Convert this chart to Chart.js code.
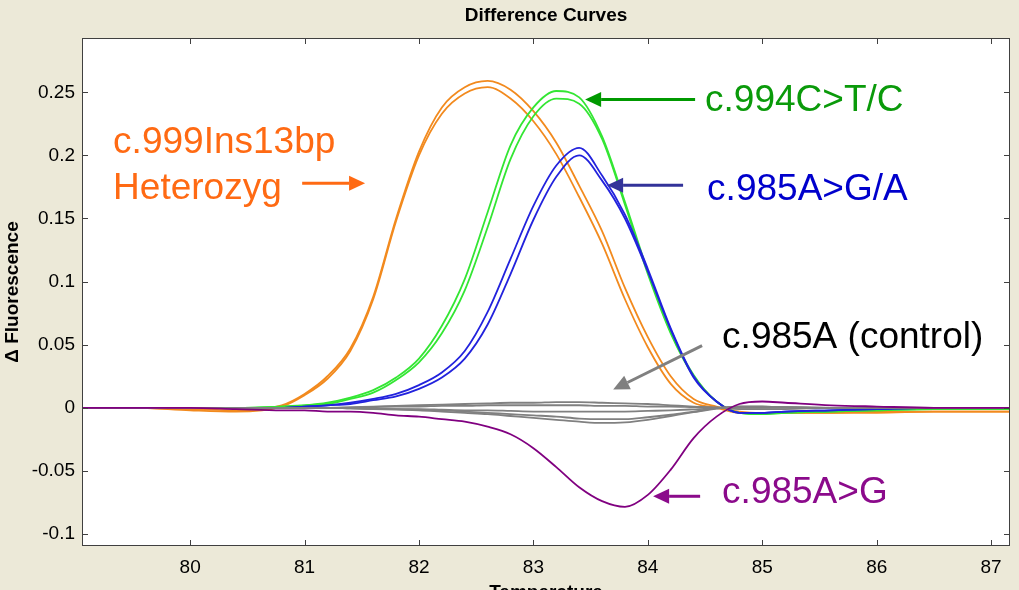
<!DOCTYPE html>
<html>
<head>
<meta charset="utf-8">
<title>Difference Curves</title>
<script src="https://cdn.jsdelivr.net/npm/chart.js@4.4.0/dist/chart.umd.min.js"></script>
<style>
    html, body { margin: 0; padding: 0; background: #ece9d8; overflow: hidden; }
    #wrap { width: 1019px; height: 610px; }
</style>
</head>
<body>
<div id="wrap"><canvas id="diffChart" width="1019" height="610"></canvas></div>
<script>
// Temperature grid (deg C) shared by every curve
const temps = [79.05, 79.5, 80, 80.4, 80.8, 81.0, 81.2, 81.4, 81.6, 81.8, 82.0, 82.2, 82.4, 82.6, 82.8,
    83.0, 83.2, 83.4, 83.6, 83.8, 84.0, 84.2, 84.4, 84.6, 84.8, 85.0, 85.2, 85.6, 86.0, 86.5, 87.0, 87.17];

// c.999Ins13bp heterozygous (orange, two replicates)
const orangeA = [0, 0, -0.001, -0.002, 0.002, 0.011, 0.025, 0.047, 0.088, 0.150, 0.203, 0.238, 0.254, 0.259, 0.252,
    0.235, 0.210, 0.176, 0.140, 0.095, 0.056, 0.025, 0.007, 0.001, -0.003, -0.004, -0.004, -0.004, -0.003, -0.003, -0.003, -0.003];
const orangeB = [0, 0, -0.002, -0.003, 0.001, 0.010, 0.023, 0.045, 0.086, 0.148, 0.200, 0.233, 0.249, 0.254, 0.245,
    0.227, 0.201, 0.167, 0.130, 0.086, 0.048, 0.019, 0.004, 0.000, -0.004, -0.004, -0.004, -0.004, -0.004, -0.003, -0.003, -0.003];

// c.994C>T/C (green)
const greenA = [0, 0, 0, 0, 0.001, 0.002, 0.004, 0.008, 0.014, 0.024, 0.039, 0.065, 0.102, 0.155, 0.208,
    0.238, 0.251, 0.246, 0.215, 0.163, 0.108, 0.060, 0.026, 0.005, -0.004, -0.005, -0.004, -0.003, -0.002, -0.001, -0.001, -0.001];
const greenB = [0, 0, 0, 0, 0.001, 0.002, 0.003, 0.007, 0.012, 0.022, 0.036, 0.059, 0.093, 0.143, 0.197,
    0.231, 0.245, 0.241, 0.213, 0.161, 0.106, 0.059, 0.025, 0.005, -0.004, -0.005, -0.004, -0.003, -0.002, -0.001, -0.001, -0.001];

// c.985A>G/A (blue)
const blueA = [0, 0, 0, 0, 0, 0.001, 0.002, 0.004, 0.007, 0.011, 0.018, 0.028, 0.045, 0.076, 0.118,
    0.160, 0.192, 0.206, 0.184, 0.153, 0.110, 0.063, 0.025, 0.005, -0.004, -0.004, -0.003, -0.002, -0.001, 0, 0, 0];
const blueB = [0, 0, 0, 0, 0, 0.001, 0.002, 0.003, 0.006, 0.009, 0.015, 0.024, 0.039, 0.066, 0.106,
    0.149, 0.183, 0.200, 0.180, 0.150, 0.108, 0.062, 0.024, 0.005, -0.004, -0.004, -0.003, -0.002, -0.001, 0, 0, 0];

// c.985A control (grey, several runs)
const gray1 = [0, 0, 0, 0, 0, 0, 0, 0.0005, 0.001, 0.0015, 0.002, 0.0025, 0.003, 0.0035, 0.004,
    0.004, 0.0045, 0.0045, 0.004, 0.0035, 0.003, 0.002, 0.001, 0.0003, -0.001, -0.001, -0.001, 0, 0, 0, 0, 0];
const gray2 = [0, 0, 0, 0, 0, 0, 0, 0, 0.0005, 0.001, 0.001, 0.0015, 0.0015, 0.002, 0.002,
    0.002, 0.002, 0.002, 0.0015, 0.0015, 0.001, 0.001, 0.0005, 0.0002, 0, 0, 0, 0, 0, 0, 0, 0];
const gray3 = [0, 0, 0, 0, 0, 0, 0, 0, -0.0005, -0.001, -0.001, -0.0015, -0.002, -0.002, -0.0025,
    -0.003, -0.003, -0.003, -0.003, -0.003, -0.0025, -0.002, -0.0012, -0.0003, 0.001, 0.001, 0.0005, 0, 0, 0, 0, 0];
const gray4 = [0, 0, 0, 0, 0, 0, 0, -0.0005, -0.001, -0.001, -0.0015, -0.002, -0.003, -0.004, -0.005,
    -0.006, -0.007, -0.0085, -0.009, -0.009, -0.0075, -0.0055, -0.003, -0.0005, 0.001, 0.001, 0.0005, 0, 0, 0, 0, 0];
const gray5 = [0, 0, 0, 0, 0, 0, 0, -0.0005, -0.001, -0.0015, -0.002, -0.003, -0.004, -0.005, -0.0065,
    -0.008, -0.0095, -0.011, -0.012, -0.0115, -0.0095, -0.0065, -0.0035, -0.0006, 0.001, 0.001, 0.0005, 0, 0, 0, 0, 0];

// c.985A>G (purple)
const purple = [0, 0, 0, -0.001, -0.002, -0.002, -0.003, -0.003, -0.004, -0.006, -0.007, -0.009, -0.011, -0.015, -0.021,
    -0.032, -0.047, -0.063, -0.074, -0.0785, -0.069, -0.049, -0.024, -0.007, 0.003, 0.005, 0.004, 0.002, 0.001, 0, 0, 0];

// Axes
const xTickValues = [80, 81, 82, 83, 84, 85, 86, 87];
const xTickLabels = ['80', '81', '82', '83', '84', '85', '86', '87'];
const yTickValues = [-0.1, -0.05, 0, 0.05, 0.1, 0.15, 0.2, 0.25];
const yTickLabels = ['-0.1', '-0.05', '0', '0.05', '0.1', '0.15', '0.2', '0.25'];
const xRange = [79.055, 87.165];
const yRange = [-0.1095, 0.293];

// Text labels and arrows, placed in data units
const notes = [
    { text: 'c.999Ins13bp', at: [79.327, 0.2015], color: '#ff6a13' },
    { text: 'Heterozyg', at: [79.327, 0.1655], color: '#ff6a13' },
    { text: 'c.994C>T/C', at: [84.50, 0.2349], color: '#0a9a0a' },
    { text: 'c.985A>G/A', at: [84.518, 0.1646], color: '#0000cc' },
    { text: 'c.985A (control)', at: [84.649, 0.0476], color: '#000000' },
    { text: 'c.985A>G', at: [84.649, -0.0751], color: '#8b0a8b' }
];
const arrows = [
    { from: [80.979, 0.178], to: [81.529, 0.178], color: '#ff6a13' },
    { from: [84.413, 0.2443], to: [83.452, 0.2443], color: '#009900' },
    { from: [84.308, 0.1764], to: [83.644, 0.1764], color: '#333399' },
    { from: [84.474, 0.0492], to: [83.697, 0.01446], color: '#808080' },
    { from: [84.457, -0.0701], to: [84.046, -0.0701], color: '#8b0a8b' }
];

const FONT = "'Liberation Sans', Arial, sans-serif";

function toPoints(values) {
    return temps.map((t, i) => ({ x: t, y: values[i] }));
}

function curve(values, color) {
    return {
        data: toPoints(values),
        borderColor: color,
        borderWidth: 1.8,
        pointRadius: 0,
        fill: false,
        cubicInterpolationMode: 'monotone'
    };
}

// white plot area over the beige window background
const plotBackground = {
    id: 'plotBackground',
    beforeDraw(chart) {
        const { ctx, chartArea: a } = chart;
        ctx.save();
        ctx.fillStyle = '#ffffff';
        ctx.fillRect(a.left, a.top, a.right - a.left, a.bottom - a.top);
        ctx.restore();
    }
};

// box, inward ticks on all four sides, title
const matlabFrame = {
    id: 'matlabFrame',
    afterDraw(chart) {
        const { ctx, chartArea: a, scales: { x, y } } = chart;
        const tick = 6;
        ctx.save();
        ctx.strokeStyle = '#404040';
        ctx.lineWidth = 1;
        ctx.strokeRect(a.left + 0.5, a.top + 0.5, a.right - a.left - 1, a.bottom - a.top - 1);
        ctx.beginPath();
        x.ticks.forEach(t => {
            const px = Math.round(x.getPixelForValue(t.value)) + 0.5;
            ctx.moveTo(px, a.bottom); ctx.lineTo(px, a.bottom - tick);
            ctx.moveTo(px, a.top); ctx.lineTo(px, a.top + tick);
        });
        y.ticks.forEach(t => {
            const py = Math.round(y.getPixelForValue(t.value)) + 0.5;
            ctx.moveTo(a.left, py); ctx.lineTo(a.left + tick, py);
            ctx.moveTo(a.right, py); ctx.lineTo(a.right - tick, py);
        });
        ctx.stroke();

        ctx.fillStyle = '#000';
        ctx.font = 'bold 19px ' + FONT;
        ctx.textAlign = 'center';
        ctx.textBaseline = 'middle';
        ctx.fillText('Difference Curves', (a.left + a.right) / 2, 16);
        ctx.restore();
    }
};

const annotations = {
    id: 'annotations',
    afterDraw(chart) {
        const { ctx, scales: { x, y } } = chart;
        ctx.save();
        ctx.font = '37px ' + FONT;
        ctx.textAlign = 'left';
        ctx.textBaseline = 'alphabetic';
        notes.forEach(n => {
            ctx.fillStyle = n.color;
            ctx.fillText(n.text, x.getPixelForValue(n.at[0]), y.getPixelForValue(n.at[1]));
        });

        arrows.forEach(ar => {
            const x0 = x.getPixelForValue(ar.from[0]), y0 = y.getPixelForValue(ar.from[1]);
            const x1 = x.getPixelForValue(ar.to[0]), y1 = y.getPixelForValue(ar.to[1]);
            const ang = Math.atan2(y1 - y0, x1 - x0);
            const headLen = 16, headHalf = 7.5;
            const bx = x1 - headLen * Math.cos(ang), by = y1 - headLen * Math.sin(ang);
            ctx.strokeStyle = ar.color;
            ctx.fillStyle = ar.color;
            ctx.lineWidth = 3;
            ctx.beginPath();
            ctx.moveTo(x0, y0);
            ctx.lineTo(bx, by);
            ctx.stroke();
            ctx.beginPath();
            ctx.moveTo(x1, y1);
            ctx.lineTo(bx + headHalf * Math.sin(ang), by - headHalf * Math.cos(ang));
            ctx.lineTo(bx - headHalf * Math.sin(ang), by + headHalf * Math.cos(ang));
            ctx.closePath();
            ctx.fill();
        });
        ctx.restore();
    }
};

new Chart(document.getElementById('diffChart'), {
    type: 'line',
    data: {
        datasets: [
            curve(purple, '#800080'),
            curve(gray1, '#808080'),
            curve(gray2, '#808080'),
            curve(gray3, '#808080'),
            curve(gray4, '#808080'),
            curve(gray5, '#808080'),
            curve(blueA, '#2222dd'),
            curve(blueB, '#2222dd'),
            curve(greenA, '#33e633'),
            curve(greenB, '#33e633'),
            curve(orangeA, '#f28a1e'),
            curve(orangeB, '#f28a1e')
        ]
    },
    options: {
        responsive: false,
        animation: false,
        layout: { padding: { top: 38, right: 9, left: 0, bottom: 0 } },
        plugins: {
            legend: { display: false },
            tooltip: { enabled: false },
            title: { display: false }
        },
        scales: {
            x: {
                type: 'linear',
                min: xRange[0],
                max: xRange[1],
                grid: { display: false, drawTicks: false },
                border: { display: false },
                afterBuildTicks: (scale) => { scale.ticks = xTickValues.map(v => ({ value: v })); },
                afterFit: (scale) => { scale.height = 64; },
                ticks: {
                    padding: 10,
                    color: '#000',
                    font: { family: FONT, size: 19 },
                    maxRotation: 0,
                    callback: (value, index) => xTickLabels[index]
                },
                title: {
                    display: true,
                    text: 'Temperature',
                    color: '#000',
                    font: { family: FONT, size: 19, weight: 'bold' },
                    padding: { top: 0, bottom: 6 }
                }
            },
            y: {
                min: yRange[0],
                max: yRange[1],
                grid: { display: false, drawTicks: false },
                border: { display: false },
                afterBuildTicks: (scale) => { scale.ticks = yTickValues.map(v => ({ value: v })); },
                afterFit: (scale) => { scale.width = 82; },
                ticks: {
                    padding: 7,
                    color: '#000',
                    font: { family: FONT, size: 19 },
                    callback: (value, index) => yTickLabels[index]
                },
                title: {
                    display: true,
                    text: '\u0394 Fluorescence',
                    color: '#000',
                    font: { family: FONT, size: 19, weight: 'bold' },
                    padding: { top: 1, bottom: 0 }
                }
            }
        }
    },
    plugins: [plotBackground, matlabFrame, annotations]
});
</script>
</body>
</html>
